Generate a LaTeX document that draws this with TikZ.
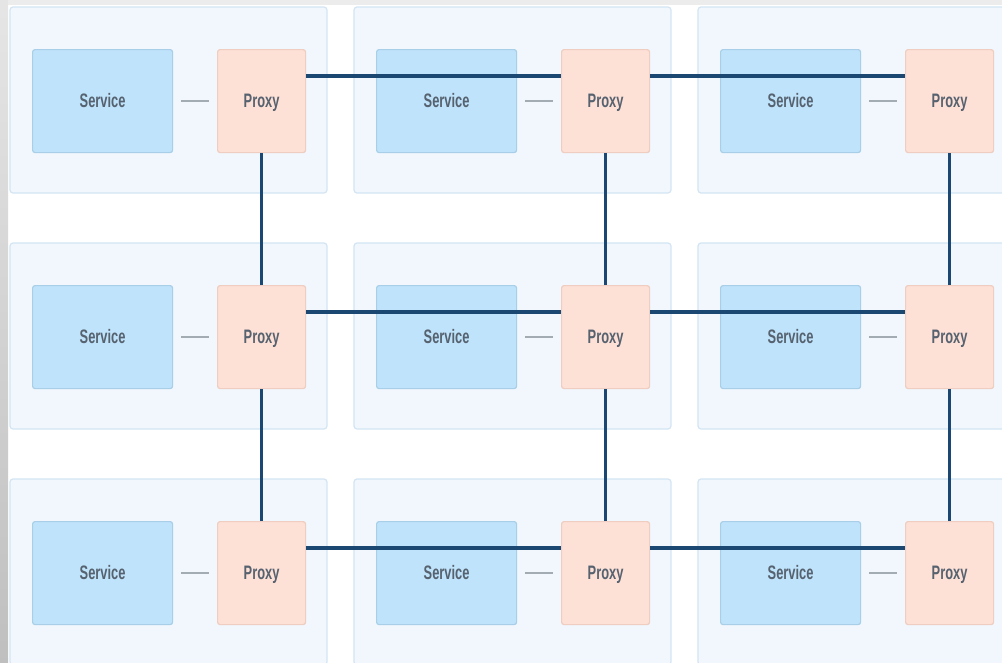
\documentclass[tikz,border=0pt]{standalone}
\usepackage{fontspec}
\setmainfont{Liberation Sans}[FakeStretch=0.66]
\definecolor{cellfill}{HTML}{F1F7FD}
\definecolor{celldraw}{HTML}{D3E5F4}
\definecolor{svcfill}{HTML}{BFE3FB}
\definecolor{svcdraw}{HTML}{A9CFE8}
\definecolor{pxfill}{HTML}{FDE0D6}
\definecolor{pxdraw}{HTML}{EFCDC0}
\definecolor{txt}{HTML}{56626F}
\definecolor{navy}{HTML}{1B4873}
\definecolor{dashc}{HTML}{A3ABB3}
\begin{document}
\begin{tikzpicture}[x=1pt,y=-1pt,
  cellbox/.style={draw=celldraw,fill=cellfill,line width=1.2pt,rounded corners=3pt},
  boxtext/.style={inner sep=0pt,font=\fontsize{19.5}{21}\selectfont\bfseries,text=txt,anchor=north west,text height=14pt,text depth=0.5pt,minimum height=103pt},
  svc/.style={boxtext,draw=svcdraw,fill=svcfill,line width=1.2pt,rounded corners=2.5pt,minimum width=140pt},
  prx/.style={boxtext,draw=pxdraw,fill=pxfill,line width=1.2pt,rounded corners=2.5pt,minimum width=88pt},
  link/.style={dashc,line width=2pt},
  hconn/.style={navy,line width=3.6pt},
  vconn/.style={navy,line width=2.4pt}]
\useasboundingbox (0,0) rectangle (1002,662);
\fill[white] (0,0) rectangle (1002,662);
\shade[top color=gray!20,bottom color=gray!50] (0,0) rectangle (8,662);
\fill[gray!15] (8,0) rectangle (1002,5);
% cells
\foreach \c/\cx in {1/10,2/354,3/698}{
  \foreach \r/\ry in {1/7,2/243,3/479}{
    \draw[cellbox] (\cx,\ry) rectangle ++(317,186);
    \node[svc] (s\c\r) at (\cx+22,\ry+42) {Service};
    \node[prx] (p\c\r) at (\cx+207,\ry+42) {Proxy};
    \draw[link] ([xshift=8pt]s\c\r.east) -- ([xshift=-8pt]p\c\r.west);
  }
}
% horizontal connectors
\foreach \r in {1,2,3}{
  \draw[hconn] ([yshift=-27pt]p1\r.north east) -- ([yshift=-27pt]p2\r.north west);
  \draw[hconn] ([yshift=-27pt]p2\r.north east) -- ([yshift=-27pt]p3\r.north west);
}
% vertical connectors
\foreach \c in {1,2,3}{
  \draw[vconn] (p\c1.south) -- (p\c2.north);
  \draw[vconn] (p\c2.south) -- (p\c3.north);
}
\end{tikzpicture}
\end{document}
